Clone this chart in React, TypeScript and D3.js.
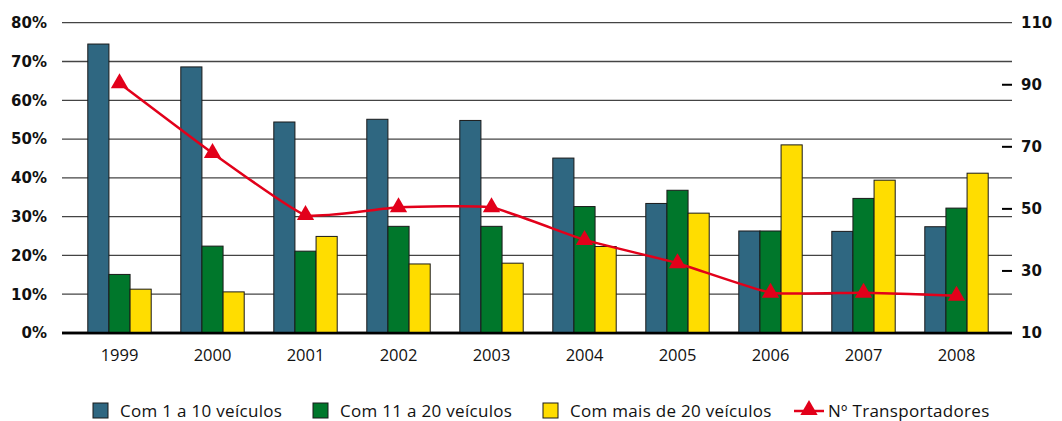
import React from "react"
import * as d3 from "d3"

// dados
const anos = ["1999", "2000", "2001", "2002", "2003", "2004", "2005", "2006", "2007", "2008"]
const com1a10 = [74.5, 68.6, 54.4, 55.1, 54.8, 45.1, 33.4, 26.3, 26.2, 27.4]
const com11a20 = [15.1, 22.4, 21.1, 27.5, 27.5, 32.6, 36.8, 26.3, 34.7, 32.2]
const comMais20 = [11.3, 10.6, 24.9, 17.8, 18.0, 22.3, 30.9, 48.5, 39.4, 41.2]
const transportadores = [90.5, 68, 48, 50.5, 50.5, 40, 32.5, 23, 23, 22]

const leftTicks = [0, 10, 20, 30, 40, 50, 60, 70, 80]
const rightTicks = [10, 30, 50, 70, 90, 110]

const seriesNames = ["Com 1 a 10 veículos", "Com 11 a 20 veículos", "Com mais de 20 veículos"]
const colors = ["#2f6781", "#00772b", "#ffdd00"]
const red = "#e2001a"

const W = 1062, H = 421
const plotLeft = 62, plotRight = 1012, top = 22.7, bottom = 333

export default function App() {
    const x = d3.scaleBand().domain(anos).range([73, 1003])
    const inner = d3.scaleBand().domain(["a", "b", "c"]).range([0, x.bandwidth()]).paddingOuter(0.7).paddingInner(0)
    const yL = d3.scaleLinear().domain([0, 80]).range([bottom, top])
    const yR = d3.scaleLinear().domain([10, 110]).range([bottom, top])
    const series = [com1a10, com11a20, comMais20]
    const keys = ["a", "b", "c"]

    const line = d3.line<number>()
        .x((d, i) => x(anos[i])! + x.bandwidth() / 2)
        .y(d => yR(d))
        .curve(d3.curveCardinal.tension(0.6))
    const tri = d3.symbol().type(d3.symbolTriangle).size(130)()

    return (
        <svg width={W} height={H} style={{position: "absolute", left: 0, top: 0}}>
            {/* grade */}
            {leftTicks.map(t => (
                <line key={t} x1={plotLeft} x2={plotRight} y1={yL(t)} y2={yL(t)}
                      stroke={t === 0 ? "#000" : "#444"} strokeWidth={t === 0 ? 2.5 : 1.3}/>
            ))}
            {leftTicks.map(t => (
                <text key={"l" + t} x={47} y={yL(t)} dy="0.36em" textAnchor="end"
                      fontFamily="DejaVu Sans" fontWeight="bold" fontSize={15} fill="#111">{t + "%"}</text>
            ))}
            {rightTicks.map(t => (
                <g key={"r" + t}>
                    {t !== 10 && t !== 110 &&
                        <line x1={1002} x2={1012} y1={yR(t)} y2={yR(t)} stroke="#000" strokeWidth={2}/>}
                    <text x={1021} y={yR(t)} dy="0.36em" fontFamily="DejaVu Sans" fontWeight="bold"
                          fontSize={15} fill="#111">{t}</text>
                </g>
            ))}
            {/* barras */}
            {series.map((s, si) => s.map((v, i) => (
                <rect key={si + "-" + i} x={x(anos[i])! + inner(keys[si])!} y={yL(v)}
                      width={inner.bandwidth()} height={bottom - yL(v)}
                      fill={colors[si]} stroke="#1a1a1a" strokeWidth={1}/>
            )))}
            <line x1={plotLeft} x2={plotRight} y1={bottom} y2={bottom} stroke="#000" strokeWidth={2.5}/>
            {/* linha transportadores */}
            <path d={line(transportadores)!} fill="none" stroke={red} strokeWidth={2.5}/>
            {transportadores.map((v, i) => (
                <path key={"t" + i} d={tri!} fill={red}
                      transform={`translate(${x(anos[i])! + x.bandwidth() / 2},${yR(v)})`}/>
            ))}
            {anos.map(a => (
                <text key={a} x={x(a)! + x.bandwidth() / 2} y={361} textAnchor="middle"
                      fontFamily="Open Sans" fontSize={16.5} fill="#111">{a}</text>
            ))}
            {/* legenda */}
            {[93, 313, 543].map((lx, i) => (
                <g key={"lg" + i}>
                    <rect x={lx} y={403} width={15} height={15} fill={colors[i]} stroke="#1a1a1a" strokeWidth={1}/>
                    <text x={lx + 27} y={417} fontFamily="Open Sans" fontSize={17} letterSpacing={0.3}
                          fill="#111">{seriesNames[i]}</text>
                </g>
            ))}
            <line x1={794} x2={824} y1={411} y2={411} stroke={red} strokeWidth={2.5}/>
            <path d={tri!} fill={red} transform="translate(809,410)"/>
            <text x={828} y={417} fontFamily="Open Sans" fontSize={17} letterSpacing={0.3} fill="#111">Nº Transportadores</text>
        </svg>
    )
}
